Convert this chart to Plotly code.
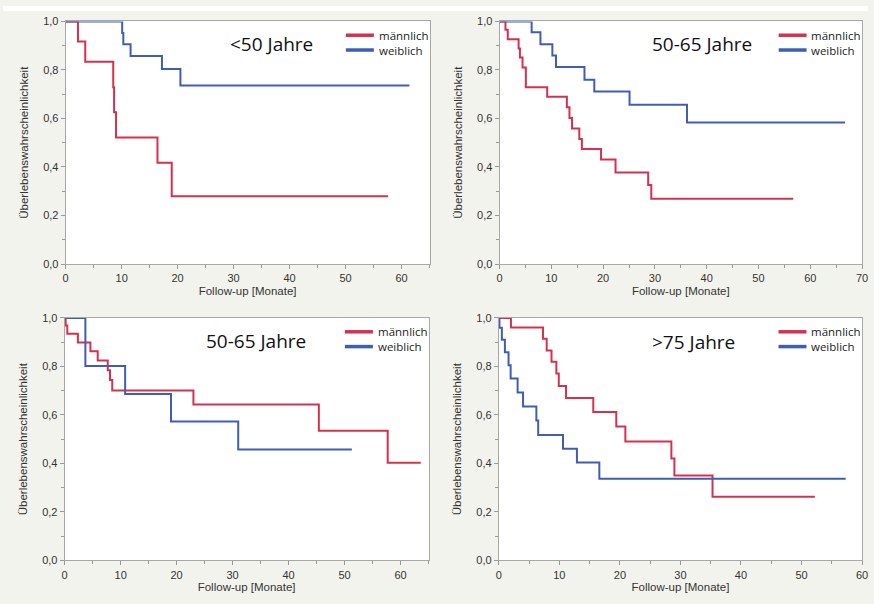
import plotly.graph_objects as go
from plotly.subplots import make_subplots

RED = "#d6304f"
BLUE = "#3f5db5"
BG = "#f3f3ed"

titles = ["<50 Jahre", "50-65 Jahre", "50-65 Jahre", ">75 Jahre"]
legend_labels = ["männlich", "weiblich"]
x_max = [65, 70, 65, 60]

# Panel 1: <50 Jahre
p1_m_t = [0, 2.2, 3.5, 8.5, 8.65, 9.0, 16.4, 18.95, 57.6]
p1_m_s = [1.0, 0.917, 0.834, 0.729, 0.626, 0.522, 0.417, 0.279, 0.279]
p1_w_t = [0, 10.1, 10.3, 11.6, 17.2, 20.5, 61.4]
p1_w_s = [1.0, 0.952, 0.906, 0.857, 0.804, 0.736, 0.736]

# Panel 2: 50-65 Jahre
p2_m_t = [0, 1.14, 1.59, 3.68, 3.94, 4.44, 5.08, 9.2, 13.0, 13.5, 14.0, 15.4, 15.9, 19.6, 22.4, 28.7, 29.3, 56.7]
p2_m_s = [1.0, 0.966, 0.926, 0.888, 0.851, 0.81, 0.729, 0.689, 0.646, 0.602, 0.559, 0.515, 0.474, 0.431, 0.377, 0.326, 0.269, 0.269]
p2_w_t = [0, 6.2, 7.9, 10.2, 10.9, 16.4, 18.3, 25.1, 36.2, 66.7]
p2_w_s = [1.0, 0.955, 0.906, 0.859, 0.812, 0.760, 0.711, 0.657, 0.583, 0.583]

# Panel 3: 50-65 Jahre
p3_m_t = [0, 0.18, 0.47, 2.36, 4.6, 5.9, 7.7, 8.1, 8.5, 23.0, 45.4, 57.7, 63.6]
p3_m_s = [1.0, 0.969, 0.935, 0.899, 0.863, 0.825, 0.784, 0.744, 0.701, 0.643, 0.535, 0.403, 0.403]
p3_w_t = [0, 3.7, 10.8, 19.0, 31.0, 51.3]
p3_w_s = [1.0, 0.802, 0.687, 0.573, 0.458, 0.458]

# Panel 4: >75 Jahre
p4_m_t = [0, 2.0, 7.3, 7.9, 8.7, 9.5, 9.9, 11.1, 15.6, 19.4, 20.9, 28.5, 29.0, 35.3, 52.2]
p4_m_s = [1.0, 0.961, 0.914, 0.866, 0.82, 0.771, 0.72, 0.670, 0.612, 0.552, 0.491, 0.42, 0.35, 0.263, 0.263]
p4_w_t = [0, 0.1, 0.5, 1.0, 1.6, 1.95, 3.1, 4.0, 6.2, 6.5, 10.6, 12.9, 16.6, 57.3]
p4_w_s = [1.0, 0.96, 0.91, 0.859, 0.805, 0.75, 0.693, 0.635, 0.577, 0.517, 0.461, 0.404, 0.337, 0.337]

panels = [
    (p1_m_t, p1_m_s, p1_w_t, p1_w_s),
    (p2_m_t, p2_m_s, p2_w_t, p2_w_s),
    (p3_m_t, p3_m_s, p3_w_t, p3_w_s),
    (p4_m_t, p4_m_s, p4_w_t, p4_w_s),
]

W, H = 874, 604
# plot-area pixel boxes (left, right, top, bottom)
boxes = [
    (63.3, 431.0, 15.7, 263.3),
    (501.7, 868.0, 15.7, 263.3),
    (62.3, 430.0, 318.3, 565.7),
    (501.0, 868.0, 318.3, 565.7),
]
title_pos = [(36.8, 0.906), (39.1, 0.906), (34.1, 0.905), (32.1, 0.90)]

fig = make_subplots(rows=2, cols=2)

tick_font = dict(family="Liberation Sans, Arial, sans-serif", size=11, color="#333333")
axis_title_font = dict(family="Liberation Sans, Arial, sans-serif", size=11.5, color="#333333")

for i, (mt, ms, wt, ws) in enumerate(panels):
    r, c = i // 2 + 1, i % 2 + 1
    fig.add_trace(go.Scatter(x=mt, y=ms, mode="lines", line=dict(color=RED, width=2, shape="hv"),
                             showlegend=False, name=legend_labels[0]), row=r, col=c)
    fig.add_trace(go.Scatter(x=wt, y=ws, mode="lines", line=dict(color=BLUE, width=2, shape="hv"),
                             showlegend=False, name=legend_labels[1]), row=r, col=c)
    L, R, T, B = boxes[i]
    xa = "xaxis" if i == 0 else f"xaxis{i+1}"
    ya = "yaxis" if i == 0 else f"yaxis{i+1}"
    fig.layout[xa].update(
        domain=[L / W, R / W], range=[0, x_max[i]], dtick=10, tick0=0,
        ticks="outside", ticklen=4, tickcolor="#999999", tickwidth=1,
        minor=dict(dtick=5, ticks="outside", ticklen=3, tickcolor="#999999"),
        showline=True, linecolor="#a8a8a8", linewidth=1, mirror=True,
        showgrid=False, zeroline=False, tickfont=tick_font, ticklabeloverflow="allow",
        title=dict(text="Follow-up [Monate]", font=axis_title_font, standoff=3),
    )
    fig.layout[ya].update(
        domain=[1 - B / H, 1 - T / H], range=[0, 1.0], dtick=0.2, tick0=0, tickformat=".1f",
        ticks="outside", ticklen=4, tickcolor="#999999", tickwidth=1,
        minor=dict(dtick=0.1, ticks="outside", ticklen=3, tickcolor="#999999"),
        showline=True, linecolor="#a8a8a8", linewidth=1, mirror=True,
        showgrid=False, zeroline=False, tickfont=tick_font, ticklabeloverflow="allow",
        title=dict(text="Überlebenswahrscheinlichkeit", font=axis_title_font, standoff=12),
    )
    xref = "x" if i == 0 else f"x{i+1}"
    yref = "y" if i == 0 else f"y{i+1}"
    tx, ty = title_pos[i]
    fig.add_annotation(x=tx, y=ty, xref=xref, yref=yref, text=titles[i], showarrow=False,
                       font=dict(family="Open Sans, sans-serif", size=19, color="#111111"),
                       xanchor="center", yanchor="middle")
    # legend
    for k, (col, ly) in enumerate([(RED, 0.943), (BLUE, 0.882)]):
        fig.add_shape(type="line", xref=f"{xref} domain", yref=f"{yref} domain",
                      x0=0.770, x1=0.847, y0=ly, y1=ly, line=dict(color=col, width=3.5))
        fig.add_annotation(x=0.855, y=ly, xref=f"{xref} domain", yref=f"{yref} domain",
                           text=legend_labels[k], showarrow=False, xanchor="left", yanchor="middle",
                           font=dict(family="Open Sans, sans-serif", size=11.5, color="#222222"))

# white strip at the very top
fig.add_shape(type="rect", xref="paper", yref="paper", x0=0, x1=1, y0=1 - 5 / H, y1=1,
              fillcolor="white", line=dict(width=0), layer="below")

fig.update_layout(
    width=W, height=H, margin=dict(l=0, r=0, t=0, b=0),
    paper_bgcolor=BG, plot_bgcolor="white", separators=",.", showlegend=False,
)

fig.write_html("out.html")
